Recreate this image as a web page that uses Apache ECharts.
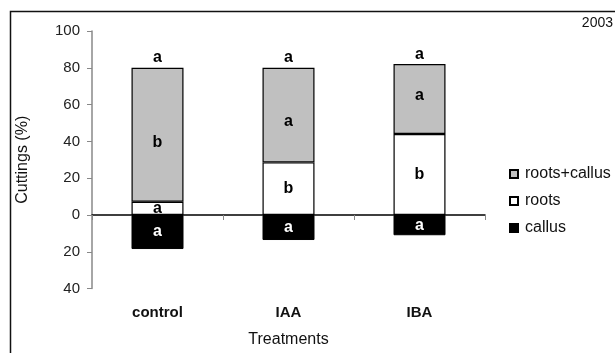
<!DOCTYPE html>
<html>
<head>
<meta charset="utf-8">
<script src="https://cdn.jsdelivr.net/npm/echarts@6/dist/echarts.min.js"></script>
<style>html,body{margin:0;padding:0;background:#fff;}#c{width:615px;height:353px;}</style>
</head>
<body>
<div id="c"></div>
<script>
var categories = ['control', 'IAA', 'IBA'];
var yTicks = [-40, -20, 0, 20, 40, 60, 80, 100];
var roots = [7.2, 28.6, 44];
var rootsCallus = [72.8, 51.4, 38];
var callus = [-18.5, -13.6, -11];
var rootsLetters = ['a', 'b', 'b'];
var rootsCallusLetters = ['b', 'a', 'a'];
var callusLetters = ['a', 'a', 'a'];
var totalLetters = ['a', 'a', 'a'];

var totals = roots.map(function (v, i) { return v + rootsCallus[i]; });
var font = 'Liberation Sans, Arial, sans-serif';
var rcOffsets = [8, 7, -3];

var chart = echarts.init(document.getElementById('c'));
chart.setOption({
  animation: false,
  textStyle: { fontFamily: font },
  grid: { left: 92, right: 130, top: 31, bottom: 64.4, containLabel: false, outerBoundsMode: 'none' },
  graphic: [
    { type: 'rect', left: 8, top: 9, shape: { x: 0, y: 0, width: 640, height: 400 },
      style: { fill: 'none', stroke: '#111', lineWidth: 1.5 }, z: -1 },
    { type: 'text', right: 2, top: 16, style: { text: '2003', fontFamily: 'Liberation Sans Narrow, Arial Narrow, sans-serif', fontSize: 14, fill: '#111' } }
  ],
  legend: {
    orient: 'vertical', left: 504, top: 161, itemWidth: 8, itemHeight: 8, itemGap: 11,
    icon: 'rect',
    textStyle: { fontSize: 16, color: '#111', fontFamily: font, padding: [0, 0, 0, 2] },
    data: ['roots+callus', 'roots', 'callus']
  },
  xAxis: {
    type: 'category', data: categories,
    axisLine: { onZero: true, lineStyle: { color: '#000', width: 1.5 } },
    axisTick: { show: true, alignWithLabel: false, length: 5, lineStyle: { color: '#888' } },
    axisLabel: { margin: 17, fontSize: 15, fontWeight: 'bold', color: '#111', fontFamily: font },
    name: 'Treatments', nameLocation: 'middle', nameGap: 43,
    nameTextStyle: { fontSize: 16, color: '#111', fontFamily: font }
  },
  yAxis: {
    type: 'value', min: -40, max: 100, interval: 20,
    axisLine: { show: true, lineStyle: { color: '#888', width: 1.5 } },
    axisTick: { show: true, length: 5, lineStyle: { color: '#888' } },
    splitLine: { show: false },
    axisLabel: { margin: 12, fontSize: 15, color: '#222', fontFamily: font,
      formatter: function (v) { return yTicks.indexOf(v) >= 0 ? String(Math.abs(v)) : ''; } },
    name: 'Cuttings (%)', nameLocation: 'middle', nameGap: 61,
    nameTextStyle: { fontSize: 16, color: '#111', fontFamily: font }
  },
  series: [
    {
      name: 'roots', type: 'bar', stack: 's', barWidth: 52,
      itemStyle: { color: '#fff', borderColor: '#000', borderWidth: 1.2 },
      label: { show: true, position: 'inside', fontSize: 16, fontWeight: 'bold', color: '#000',
        formatter: function (p) { return rootsLetters[p.dataIndex]; } },
      data: roots
    },
    {
      name: 'roots+callus', type: 'bar', stack: 's', barWidth: 52,
      itemStyle: { color: '#c0c0c0', borderColor: '#000', borderWidth: 1.2 },
      label: { show: true, position: 'inside', fontSize: 16, fontWeight: 'bold', color: '#000',
        formatter: function (p) { return rootsCallusLetters[p.dataIndex]; } },
      data: rootsCallus.map(function (v, i) { return { value: v, label: { offset: [0, rcOffsets[i]] } }; })
    },
    {
      name: 'callus', type: 'bar', stack: 's', barWidth: 52,
      itemStyle: { color: '#000', borderColor: '#000', borderWidth: 1 },
      label: { show: true, position: 'inside', fontSize: 16, fontWeight: 'bold', color: '#fff',
        formatter: function (p) { return callusLetters[p.dataIndex]; } },
      data: callus
    },
    {
      name: 'total', type: 'scatter', symbolSize: 0, silent: true,
      itemStyle: { opacity: 1, color: '#000' },
      label: { show: true, position: 'top', distance: 2, fontSize: 16, fontWeight: 'bold', color: '#000', opacity: 1,
        formatter: function (p) { return totalLetters[p.dataIndex]; } },
      data: totals
    }
  ]
});
</script>
</body>
</html>
